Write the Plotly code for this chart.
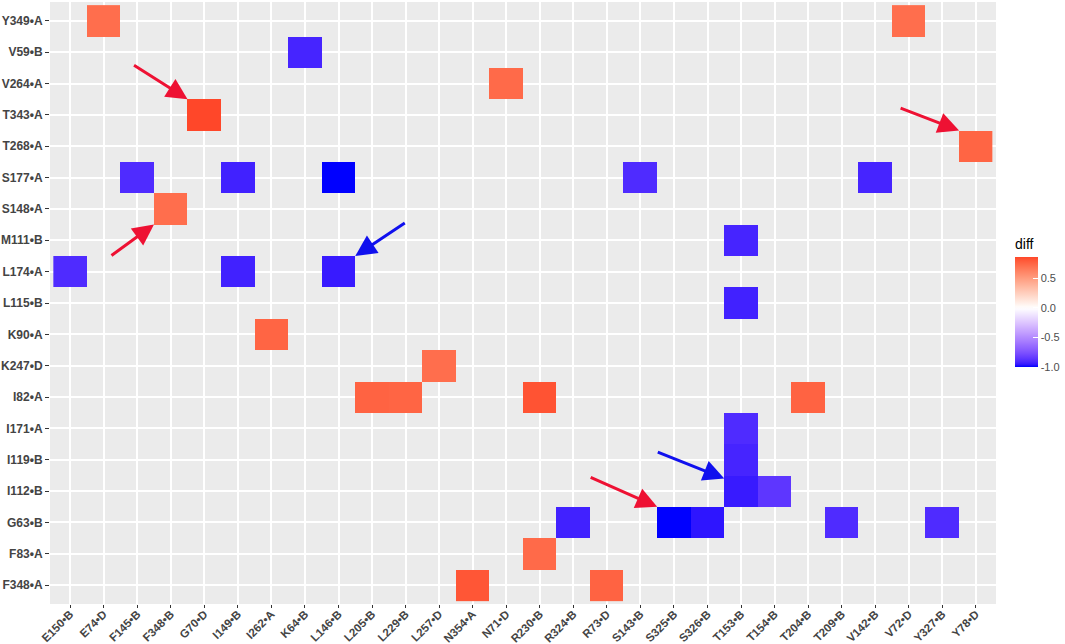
import numpy as np
import plotly.graph_objects as go

# y categories, bottom -> top (ggplot discrete order)
rows = ["F348•A", "F83•A", "G63•B", "I112•B", "I119•B", "I171•A", "I82•A",
        "K247•D", "K90•A", "L115•B", "L174•A", "M111•B", "S148•A", "S177•A",
        "T268•A", "T343•A", "V264•A", "V59•B", "Y349•A"]

cols = ["E150•B", "E74•D", "F145•B", "F348•B", "G70•D", "I149•B", "I262•A",
        "K64•B", "L146•B", "L205•B", "L229•B", "L257•D", "N354•A", "N71•D",
        "R230•B", "R324•B", "R73•D", "S143•B", "S325•B", "S326•B", "T153•B",
        "T154•B", "T204•B", "T209•B", "V142•B", "V72•D", "Y327•B", "Y78•D"]

# tiles
cell_row = ["Y349•A", "Y349•A", "V59•B", "V264•A", "T343•A", "T268•A",
            "S177•A", "S177•A", "S177•A", "S177•A", "S177•A", "S148•A",
            "M111•B", "L174•A", "L174•A", "L174•A", "L115•B", "K90•A",
            "K247•D", "I82•A", "I82•A", "I82•A", "I82•A", "I171•A", "I119•B",
            "I112•B", "I112•B", "G63•B", "G63•B", "G63•B", "G63•B", "G63•B",
            "F83•A", "F348•A", "F348•A"]
cell_col = ["E74•D", "V72•D", "K64•B", "N71•D", "G70•D", "Y78•D",
            "F145•B", "I149•B", "L146•B", "S143•B", "V142•B", "F348•B",
            "T153•B", "E150•B", "I149•B", "L146•B", "T153•B", "I262•A",
            "L257•D", "L205•B", "L229•B", "R230•B", "T204•B", "T153•B", "T153•B",
            "T153•B", "T154•B", "R324•B", "S325•B", "S326•B", "T209•B", "Y327•B",
            "R230•B", "N354•A", "R73•D"]
cell_diff = [0.72, 0.72, -0.92, 0.74, 0.87, 0.76,
             -0.90, -0.93, -1.0, -0.90, -0.92, 0.72,
             -0.92, -0.90, -0.93, -0.95, -0.93, 0.76,
             0.72, 0.77, 0.76, 0.83, 0.77, -0.90, -0.92,
             -0.95, -0.86, -0.93, -1.0, -0.96, -0.90, -0.90,
             0.74, 0.82, 0.77]

cb_tickvals = [-1.0, -0.5, 0.0, 0.5]
cb_ticktext = ["-1.0", "-0.5", "0.0", "0.5"]

z = np.full((len(rows), len(cols)), np.nan)
for r, c, v in zip(cell_row, cell_col, cell_diff):
    z[rows.index(r), cols.index(c)] = v


# ggplot scale_fill_gradient2 interpolates in Lab
def hex2lab(h):
    rgb = np.array([int(h[i:i + 2], 16) for i in (1, 3, 5)]) / 255.0
    lin = np.where(rgb <= 0.04045, rgb / 12.92, ((rgb + 0.055) / 1.055) ** 2.4)
    m = np.array([[0.4124, 0.3576, 0.1805], [0.2126, 0.7152, 0.0722], [0.0193, 0.1192, 0.9505]])
    xyz = m @ lin / np.array([0.95047, 1.0, 1.08883])
    f = np.where(xyz > 0.008856, np.cbrt(xyz), 7.787 * xyz + 16 / 116)
    return np.array([116 * f[1] - 16, 500 * (f[0] - f[1]), 200 * (f[1] - f[2])])


def lab2rgb(lab):
    fy = (lab[0] + 16) / 116
    f = np.array([fy + lab[1] / 500, fy, fy - lab[2] / 200])
    xyz = np.where(f ** 3 > 0.008856, f ** 3, (f - 16 / 116) / 7.787) * np.array([0.95047, 1.0, 1.08883])
    mi = np.array([[3.2406, -1.5372, -0.4986], [-0.9689, 1.8758, 0.0415], [0.0557, -0.2040, 1.0570]])
    lin = np.clip(mi @ xyz, 0, 1)
    srgb = np.where(lin <= 0.0031308, 12.92 * lin, 1.055 * lin ** (1 / 2.4) - 0.055)
    r, g, b = (np.clip(srgb, 0, 1) * 255).round().astype(int)
    return f"rgb({r},{g},{b})"


low, mid, high = hex2lab("#0000FF"), hex2lab("#FFFFFF"), hex2lab("#FF0000")
zmin, zmax = np.nanmin(z), np.nanmax(z)
half = max(abs(zmin), abs(zmax))
colorscale = []
for s in np.linspace(0, 1, 41):
    v = zmin + s * (zmax - zmin)
    t = 0.5 + v / (2 * half)
    if t < 0.5:
        lab = low + (mid - low) * (t / 0.5)
    else:
        lab = mid + (high - mid) * ((t - 0.5) / 0.5)
    colorscale.append([float(s), lab2rgb(lab)])

fig = go.Figure()
fig.add_trace(go.Heatmap(
    x=cols, y=rows, z=z,
    zmin=zmin, zmax=zmax,
    colorscale=colorscale,
    hoverongaps=False,
    colorbar=dict(
        title=dict(text="diff", side="top", font=dict(family="Liberation Sans", size=14, color="#000000")),
        thickness=23, len=131, lenmode="pixels", ypad=0,
        x=1.0095, xanchor="left", y=0.394, yanchor="bottom",
        tickvals=cb_tickvals, ticktext=cb_ticktext,
        ticks="inside", ticklen=5, tickcolor="#FFFFFF",
        tickfont=dict(family="Liberation Sans", size=11, color="#4D4D4D"),
        outlinewidth=0,
    ),
))

# arrows: head at a tile corner, tail offset in pixels
arrows = [
    ("G70•D", "T343•A", -0.5, 0.5, -55, -35, "#EE1133"),
    ("F348•B", "S148•A", -0.5, -0.5, -44, 32, "#EE1133"),
    ("L146•B", "L174•A", 0.5, 0.5, 51, -34, "#1010EE"),
    ("Y78•D", "T268•A", -0.5, 0.5, -60, -23, "#EE1133"),
    ("S325•B", "G63•B", -0.5, 0.5, -68, -30, "#EE1133"),
    ("T153•B", "I112•B", -0.5, 0.4, -68, -27, "#1010EE"),
]
for c, r, dx, dy, ax, ay, colr in arrows:
    fig.add_annotation(
        x=cols.index(c) + dx, y=rows.index(r) + dy, xref="x", yref="y",
        text="", showarrow=True, ax=ax, ay=ay,
        arrowhead=2, arrowsize=1.4, arrowwidth=3, arrowcolor=colr, standoff=0,
    )

fig.update_xaxes(
    type="category", categoryorder="array", categoryarray=cols,
    range=[-0.6, len(cols) - 0.4],
    showgrid=True, gridcolor="#FFFFFF", gridwidth=1.5,
    ticks="outside", ticklen=3, tickcolor="#333333",
    tickangle=-45, ticklabelstandoff=-5,
    tickfont=dict(family="Liberation Sans", size=11.5, color="#444444", weight="bold"),
    zeroline=False, showline=False,
)
fig.update_yaxes(
    type="category", categoryorder="array", categoryarray=rows,
    range=[-0.6, len(rows) - 0.4],
    showgrid=True, gridcolor="#FFFFFF", gridwidth=1.5,
    ticks="outside", ticklen=4, tickcolor="#333333",
    tickfont=dict(family="Liberation Sans", size=12, color="#444444", weight="bold"),
    zeroline=False, showline=False,
)
fig.update_layout(
    width=1065, height=644,
    margin=dict(l=50, r=69, t=2, b=40, autoexpand=False),
    plot_bgcolor="#EBEBEB", paper_bgcolor="#FFFFFF",
    showlegend=False,
)

# drop the browser's default body margin so the figure sits at 0,0
fig.write_html("out.html", config={"displayModeBar": False},
               post_script="document.body.style.margin='0';")
